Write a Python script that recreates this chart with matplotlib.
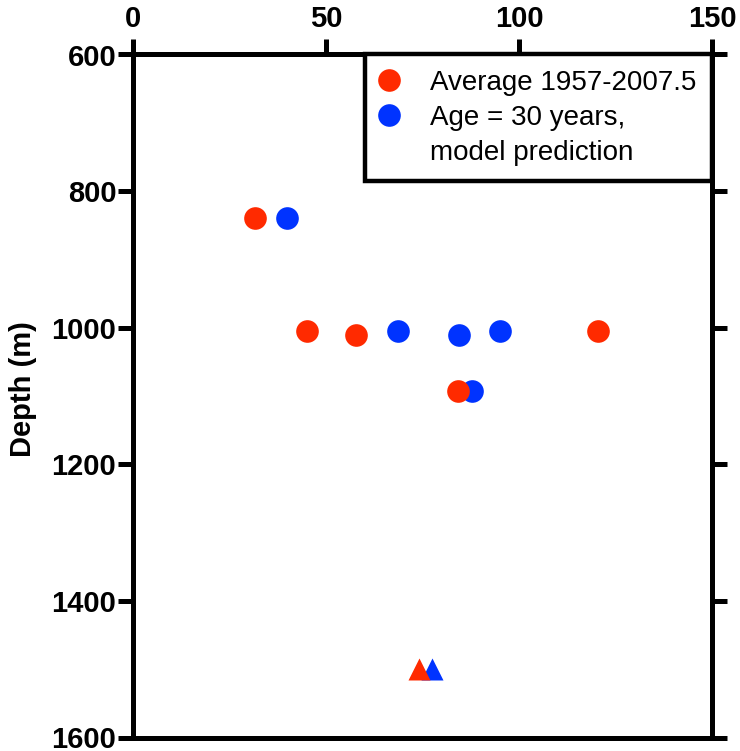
import matplotlib
matplotlib.use("Agg")
import matplotlib.pyplot as plt
from matplotlib.lines import Line2D

plt.rcParams['font.family'] = ['Liberation Sans', 'DejaVu Sans']

avg_x = [31.7, 45.0, 57.8, 120.5, 84.1]
avg_y = [840, 1005, 1010, 1005, 1093]
mod_x = [40.0, 68.7, 84.5, 95.1, 87.9]
mod_y = [840, 1005, 1010, 1005, 1093]
tri_avg_x = [74.1]
tri_avg_y = [1500]
tri_mod_x = [77.5]
tri_mod_y = [1500]

xticks = [0, 50, 100, 150]
yticks = [600, 800, 1000, 1200, 1400, 1600]

red = '#FF2A00'
blue = '#0033FF'

fig = plt.figure(figsize=(7.40, 7.51), dpi=100)
ax = fig.add_axes([133/740, 1 - 737.5/751, (712-133)/740, (737.5-54.5)/751])

ax.plot(mod_x, mod_y, 'o', color=blue, ms=16.3, mec='none', zorder=3)
ax.plot(avg_x, avg_y, 'o', color=red, ms=16.3, mec='none', zorder=4)
ax.plot(tri_mod_x, tri_mod_y, '^', color=blue, ms=15.8, mec='none', zorder=3)
ax.plot(tri_avg_x, tri_avg_y, '^', color=red, ms=15.8, mec='none', zorder=4)

ax.set_xlim(0, 150)
ax.set_ylim(1600, 600)
ax.set_xticks(xticks)
ax.set_yticks(yticks)
ax.xaxis.tick_top()
ax.tick_params(axis='x', which='both', top=True, bottom=False, direction='out',
               length=10.5, width=3.6, labelsize=21, pad=5)
ax.tick_params(axis='y', which='both', left=True, right=True, direction='out',
               length=10.5, width=3.6, labelsize=21, pad=1.5)
for lab in ax.get_xticklabels() + ax.get_yticklabels():
    lab.set_fontweight('bold')
for s in ax.spines.values():
    s.set_linewidth(3.6)

ax.set_ylabel('Depth (m)', fontsize=21, fontweight='bold')
ax.yaxis.set_label_coords(-0.165, 0.51)

h_avg = Line2D([], [], marker='o', ls='none', color=red, ms=16.3, mec='none')
h_mod = Line2D([], [], marker='o', ls='none', color=blue, ms=16.3, mec='none')
h_none = Line2D([], [], ls='none', marker='none')
leg = ax.legend([h_avg, h_mod, h_none],
                ['Average 1957-2007.5', 'Age = 30 years,', 'model prediction'],
                loc='upper right', bbox_to_anchor=(1, 1), fontsize=20,
                frameon=True, fancybox=False, borderaxespad=0,
                handletextpad=1.2, labelspacing=0.32, borderpad=0.55,
                handlelength=0.6)
leg.get_frame().set_edgecolor('black')
leg.get_frame().set_linewidth(3.2)
leg.get_frame().set_alpha(1)

fig.savefig('out.png', dpi=100)
